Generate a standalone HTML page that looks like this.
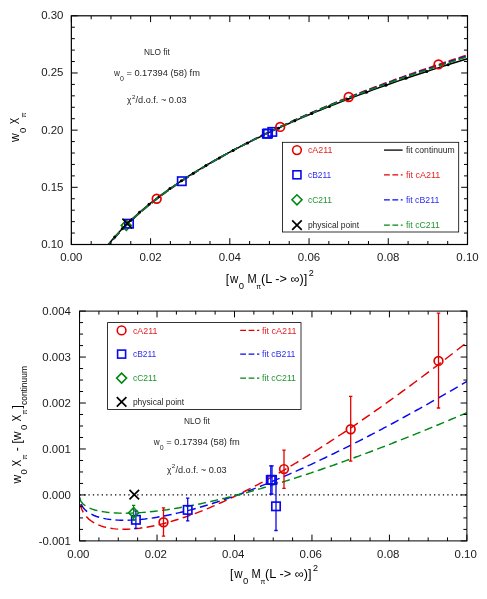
<!DOCTYPE html>
<html><head><meta charset="utf-8"><title>NLO fit</title>
<style>
html,body{margin:0;padding:0;background:#fff;}
svg{display:block;font-family:"Liberation Sans",sans-serif;}
svg{will-change:transform;}
</style></head>
<body>
<svg width="487" height="599" viewBox="0 0 487 599">
<rect width="487" height="599" fill="#fff"/>
<clipPath id="c1"><rect x="71.35" y="15.80" width="396.15" height="228.70"/></clipPath>
<g clip-path="url(#c1)">
<path d="M105.02 248.74 L105.08 248.66 L105.26 248.43 L105.55 248.05 L105.95 247.52 L106.47 246.85 L107.11 246.03 L107.87 245.07 L108.74 243.98 L109.73 242.77 L110.83 241.43 L112.05 239.98 L113.39 238.42 L114.84 236.75 L116.41 234.99 L118.09 233.14 L119.89 231.20 L121.81 229.18 L123.84 227.09 L125.99 224.93 L128.25 222.71 L130.64 220.43 L133.13 218.09 L135.75 215.70 L138.48 213.27 L141.32 210.79 L144.28 208.28 L147.36 205.72 L150.56 203.14 L153.87 200.52 L157.29 197.88 L160.84 195.20 L164.50 192.51 L168.27 189.79 L172.16 187.05 L176.17 184.30 L180.29 181.52 L184.53 178.73 L188.89 175.93 L193.36 173.12 L197.95 170.29 L202.66 167.45 L207.48 164.61 L212.41 161.75 L217.47 158.89 L222.63 156.02 L227.92 153.14 L233.32 150.26 L238.84 147.38 L244.47 144.49 L250.22 141.60 L256.09 138.71 L262.07 135.81 L268.17 132.91 L274.38 130.02 L280.71 127.12 L287.16 124.22 L293.72 121.32 L300.40 118.43 L307.20 115.54 L314.11 112.64 L321.14 109.76 L328.28 106.87 L335.54 103.99 L342.92 101.11 L350.41 98.24 L358.02 95.38 L365.74 92.51 L373.58 89.66 L381.54 86.81 L389.61 83.97 L397.80 81.14 L406.11 78.31 L414.53 75.50 L423.07 72.69 L431.72 69.89 L440.49 67.10 L449.38 64.33 L458.38 61.56 L467.50 58.81" stroke="#000" stroke-width="1.5" fill="none"/>
<path d="M105.0 249.6 L106.8 247.2 L108.7 244.8 L110.7 242.5 M113.0 239.7 L115.1 237.3 L117.2 234.9 L119.4 232.6 M122.1 229.8 L124.4 227.4 L126.7 225.0 L129.1 222.7 M131.9 220.1 L134.3 217.9 L136.6 215.7 L139.0 213.6 M141.8 211.2 L144.2 209.2 L146.5 207.2 L148.9 205.2 M151.7 203.0 L154.1 201.1 L156.4 199.3 L158.8 197.4 M161.6 195.3 L164.0 193.6 L166.3 191.8 L168.7 190.1 M171.5 188.1 L173.9 186.5 L176.2 184.8 L178.6 183.2 M181.4 181.3 L183.8 179.8 L186.1 178.2 L188.5 176.7 M191.3 174.9 L193.7 173.4 L196.0 171.9 L198.4 170.4 M201.2 168.7 L203.6 167.2 L205.9 165.8 L208.3 164.4 M211.1 162.8 L213.5 161.4 L215.8 160.0 L218.2 158.7 M221.0 157.1 L223.4 155.7 L225.7 154.4 L228.1 153.1 M230.9 151.6 L233.3 150.3 L235.6 149.0 L238.0 147.8 M240.8 146.3 L243.2 145.0 L245.5 143.8 L247.9 142.6 M250.7 141.1 L253.1 139.9 L255.4 138.7 L257.8 137.6 M260.6 136.2 L263.0 135.0 L265.3 133.8 L267.7 132.7 M270.5 131.3 L272.9 130.2 L275.2 129.1 L277.6 128.0 M280.4 126.6 L282.8 125.5 L285.1 124.4 L287.5 123.4 M290.3 122.1 L292.7 121.0 L295.0 119.9 L297.4 118.9 M300.2 117.6 L302.6 116.6 L304.9 115.5 L307.3 114.5 M310.1 113.3 L312.5 112.2 L314.8 111.2 L317.2 110.2 M320.0 109.0 L322.4 108.0 L324.7 107.0 L327.1 106.0 M329.9 104.9 L332.3 103.9 L334.6 102.9 L337.0 101.9 M339.8 100.8 L342.2 99.8 L344.5 98.9 L346.9 97.9 M349.7 96.8 L352.1 95.9 L354.4 95.0 L356.8 94.0 M359.6 92.9 L362.0 92.0 L364.3 91.1 L366.7 90.2 M369.5 89.1 L371.9 88.2 L374.2 87.3 L376.6 86.4 M379.4 85.4 L381.8 84.5 L384.1 83.6 L386.5 82.8 M389.3 81.7 L391.7 80.9 L394.0 80.0 L396.4 79.1 M399.2 78.1 L401.6 77.3 L403.9 76.4 L406.3 75.6 M409.1 74.6 L411.5 73.8 L413.8 72.9 L416.2 72.1 M419.0 71.1 L421.4 70.3 L423.7 69.5 L426.1 68.7 M428.9 67.7 L431.3 66.9 L433.6 66.1 L436.0 65.3 M438.8 64.4 L441.2 63.6 L443.5 62.8 L445.9 62.0 M448.7 61.1 L451.1 60.3 L453.4 59.5 L455.8 58.8 M458.6 57.9 L461.0 57.1 L463.3 56.3 L465.7 55.6" stroke="#e40000" stroke-width="1.6" fill="none"/>
<path d="M105.0 249.4 L106.8 247.0 L108.7 244.6 L110.7 242.3 M113.0 239.5 L115.1 237.1 L117.2 234.7 L119.4 232.4 M122.1 229.6 L124.4 227.2 L126.7 224.8 L129.1 222.5 M131.9 219.9 L134.3 217.7 L136.6 215.5 L139.0 213.4 M141.8 211.0 L144.2 209.0 L146.5 207.0 L148.9 205.0 M151.7 202.8 L154.1 200.9 L156.4 199.1 L158.8 197.3 M161.6 195.1 L164.0 193.4 L166.3 191.7 L168.7 190.0 M171.5 188.0 L173.9 186.3 L176.2 184.7 L178.6 183.1 M181.4 181.2 L183.8 179.6 L186.1 178.1 L188.5 176.5 M191.3 174.7 L193.7 173.2 L196.0 171.8 L198.4 170.3 M201.2 168.6 L203.6 167.2 L205.9 165.7 L208.3 164.3 M211.1 162.7 L213.5 161.3 L215.8 160.0 L218.2 158.6 M221.0 157.0 L223.4 155.7 L225.7 154.4 L228.1 153.1 M230.9 151.6 L233.3 150.3 L235.6 149.0 L238.0 147.8 M240.8 146.3 L243.2 145.1 L245.5 143.8 L247.9 142.6 M250.7 141.2 L253.1 140.0 L255.4 138.8 L257.8 137.6 M260.6 136.3 L263.0 135.1 L265.3 134.0 L267.7 132.8 M270.5 131.5 L272.9 130.3 L275.2 129.2 L277.6 128.1 M280.4 126.8 L282.8 125.7 L285.1 124.6 L287.5 123.5 M290.3 122.3 L292.7 121.2 L295.0 120.1 L297.4 119.1 M300.2 117.8 L302.6 116.8 L304.9 115.8 L307.3 114.7 M310.1 113.5 L312.5 112.5 L314.8 111.5 L317.2 110.5 M320.0 109.3 L322.4 108.3 L324.7 107.4 L327.1 106.4 M329.9 105.2 L332.3 104.2 L334.6 103.3 L337.0 102.3 M339.8 101.2 L342.2 100.3 L344.5 99.3 L346.9 98.4 M349.7 97.3 L352.1 96.3 L354.4 95.4 L356.8 94.5 M359.6 93.4 L362.0 92.5 L364.3 91.6 L366.7 90.7 M369.5 89.6 L371.9 88.8 L374.2 87.9 L376.6 87.0 M379.4 86.0 L381.8 85.1 L384.1 84.2 L386.5 83.3 M389.3 82.3 L391.7 81.5 L394.0 80.6 L396.4 79.8 M399.2 78.8 L401.6 77.9 L403.9 77.1 L406.3 76.3 M409.1 75.3 L411.5 74.5 L413.8 73.7 L416.2 72.8 M419.0 71.9 L421.4 71.1 L423.7 70.3 L426.1 69.5 M428.9 68.5 L431.3 67.7 L433.6 66.9 L436.0 66.1 M438.8 65.2 L441.2 64.4 L443.5 63.7 L445.9 62.9 M448.7 62.0 L451.1 61.2 L453.4 60.5 L455.8 59.7 M458.6 58.8 L461.0 58.0 L463.3 57.3 L465.7 56.6" stroke="#0808ee" stroke-width="1.6" fill="none"/>
<path d="M105.0 249.2 L106.8 246.8 L108.7 244.4 L110.7 242.1 M113.0 239.3 L115.1 236.9 L117.2 234.5 L119.4 232.2 M122.1 229.4 L124.4 227.0 L126.7 224.7 L129.1 222.4 M131.9 219.7 L134.3 217.5 L136.6 215.4 L139.0 213.2 M141.8 210.8 L144.2 208.8 L146.5 206.8 L148.9 204.9 M151.7 202.6 L154.1 200.8 L156.4 198.9 L158.8 197.1 M161.6 195.0 L164.0 193.3 L166.3 191.5 L168.7 189.8 M171.5 187.8 L173.9 186.2 L176.2 184.6 L178.6 183.0 M181.4 181.1 L183.8 179.5 L186.1 178.0 L188.5 176.4 M191.3 174.7 L193.7 173.2 L196.0 171.7 L198.4 170.2 M201.2 168.5 L203.6 167.1 L205.9 165.7 L208.3 164.3 M211.1 162.6 L213.5 161.3 L215.8 159.9 L218.2 158.6 M221.0 157.0 L223.4 155.7 L225.7 154.4 L228.1 153.1 M230.9 151.6 L233.3 150.3 L235.6 149.0 L238.0 147.8 M240.8 146.3 L243.2 145.1 L245.5 143.9 L247.9 142.7 M250.7 141.3 L253.1 140.1 L255.4 138.9 L257.8 137.7 M260.6 136.3 L263.0 135.2 L265.3 134.0 L267.7 132.9 M270.5 131.6 L272.9 130.4 L275.2 129.3 L277.6 128.2 M280.4 126.9 L282.8 125.8 L285.1 124.8 L287.5 123.7 M290.3 122.4 L292.7 121.4 L295.0 120.3 L297.4 119.3 M300.2 118.0 L302.6 117.0 L304.9 116.0 L307.3 115.0 M310.1 113.8 L312.5 112.7 L314.8 111.7 L317.2 110.7 M320.0 109.6 L322.4 108.6 L324.7 107.6 L327.1 106.6 M329.9 105.5 L332.3 104.5 L334.6 103.6 L337.0 102.6 M339.8 101.5 L342.2 100.6 L344.5 99.6 L346.9 98.7 M349.7 97.6 L352.1 96.7 L354.4 95.8 L356.8 94.9 M359.6 93.8 L362.0 92.9 L364.3 92.0 L366.7 91.1 M369.5 90.1 L371.9 89.2 L374.2 88.3 L376.6 87.4 M379.4 86.4 L381.8 85.5 L384.1 84.7 L386.5 83.8 M389.3 82.8 L391.7 82.0 L394.0 81.1 L396.4 80.3 M399.2 79.3 L401.6 78.5 L403.9 77.6 L406.3 76.8 M409.1 75.9 L411.5 75.0 L413.8 74.2 L416.2 73.4 M419.0 72.5 L421.4 71.7 L423.7 70.9 L426.1 70.1 M428.9 69.1 L431.3 68.4 L433.6 67.6 L436.0 66.8 M438.8 65.9 L441.2 65.1 L443.5 64.4 L445.9 63.6 M448.7 62.7 L451.1 61.9 L453.4 61.2 L455.8 60.4 M458.6 59.5 L461.0 58.8 L463.3 58.1 L465.7 57.3" stroke="#008612" stroke-width="1.6" fill="none"/>
<circle cx="114.69" cy="236.92" r="1.5" fill="#000"/>
<circle cx="122.35" cy="228.62" r="1.5" fill="#000"/>
<circle cx="130.62" cy="220.44" r="1.5" fill="#000"/>
<circle cx="139.52" cy="212.36" r="1.5" fill="#000"/>
<circle cx="149.04" cy="204.36" r="1.5" fill="#000"/>
<circle cx="159.18" cy="196.44" r="1.5" fill="#000"/>
<circle cx="169.94" cy="188.61" r="1.5" fill="#000"/>
<circle cx="181.33" cy="180.84" r="1.5" fill="#000"/>
<circle cx="193.34" cy="173.13" r="1.5" fill="#000"/>
<circle cx="205.97" cy="165.49" r="1.5" fill="#000"/>
<circle cx="219.22" cy="157.91" r="1.5" fill="#000"/>
<circle cx="233.09" cy="150.39" r="1.5" fill="#000"/>
<circle cx="247.59" cy="142.92" r="1.5" fill="#000"/>
<circle cx="262.70" cy="135.51" r="1.5" fill="#000"/>
<circle cx="278.44" cy="128.15" r="1.5" fill="#000"/>
<circle cx="294.80" cy="120.85" r="1.5" fill="#000"/>
<circle cx="311.79" cy="113.61" r="1.5" fill="#000"/>
<circle cx="329.39" cy="106.43" r="1.5" fill="#000"/>
<circle cx="347.62" cy="99.31" r="1.5" fill="#000"/>
<circle cx="366.47" cy="92.25" r="1.5" fill="#000"/>
<circle cx="385.94" cy="85.26" r="1.5" fill="#000"/>
<circle cx="406.03" cy="78.34" r="1.5" fill="#000"/>
<circle cx="426.75" cy="71.49" r="1.5" fill="#000"/>
<circle cx="448.08" cy="64.73" r="1.5" fill="#000"/>
</g>
<path d="M121.30 225.40L126.30 220.40L131.30 225.40L126.30 230.40Z" fill="none" stroke="#008612" stroke-width="1.6"/>
<rect x="124.80" y="219.50" width="8.40" height="8.40" fill="none" stroke="#0808ee" stroke-width="1.65"/>
<path d="M122.40 218.70L132.00 228.30M122.40 228.30L132.00 218.70" fill="none" stroke="#000" stroke-width="1.7"/>
<circle cx="156.70" cy="198.70" r="4.35" fill="none" stroke="#e40000" stroke-width="1.7"/>
<rect x="177.60" y="177.00" width="8.40" height="8.40" fill="none" stroke="#0808ee" stroke-width="1.65"/>
<rect x="262.70" y="129.60" width="8.40" height="8.40" fill="none" stroke="#0808ee" stroke-width="1.65"/>
<rect x="263.80" y="129.30" width="8.40" height="8.40" fill="none" stroke="#0808ee" stroke-width="1.65"/>
<rect x="268.10" y="127.70" width="8.40" height="8.40" fill="none" stroke="#0808ee" stroke-width="1.65"/>
<circle cx="280.20" cy="126.90" r="4.35" fill="none" stroke="#e40000" stroke-width="1.7"/>
<circle cx="348.70" cy="97.00" r="4.35" fill="none" stroke="#e40000" stroke-width="1.7"/>
<circle cx="438.50" cy="64.40" r="4.35" fill="none" stroke="#e40000" stroke-width="1.7"/>
<path d="M71.35 244.50V238.20 M71.35 15.80V22.10 M91.16 244.50V241.00 M91.16 15.80V19.30 M110.96 244.50V241.00 M110.96 15.80V19.30 M130.77 244.50V241.00 M130.77 15.80V19.30 M150.58 244.50V238.20 M150.58 15.80V22.10 M170.39 244.50V241.00 M170.39 15.80V19.30 M190.19 244.50V241.00 M190.19 15.80V19.30 M210.00 244.50V241.00 M210.00 15.80V19.30 M229.81 244.50V238.20 M229.81 15.80V22.10 M249.62 244.50V241.00 M249.62 15.80V19.30 M269.42 244.50V241.00 M269.42 15.80V19.30 M289.23 244.50V241.00 M289.23 15.80V19.30 M309.04 244.50V238.20 M309.04 15.80V22.10 M328.85 244.50V241.00 M328.85 15.80V19.30 M348.65 244.50V241.00 M348.65 15.80V19.30 M368.46 244.50V241.00 M368.46 15.80V19.30 M388.27 244.50V238.20 M388.27 15.80V22.10 M408.08 244.50V241.00 M408.08 15.80V19.30 M427.88 244.50V241.00 M427.88 15.80V19.30 M447.69 244.50V241.00 M447.69 15.80V19.30 M467.50 244.50V238.20 M467.50 15.80V22.10 M71.35 244.50H77.65 M467.50 244.50H461.20 M71.35 233.06H74.85 M467.50 233.06H464.00 M71.35 221.63H74.85 M467.50 221.63H464.00 M71.35 210.19H74.85 M467.50 210.19H464.00 M71.35 198.76H74.85 M467.50 198.76H464.00 M71.35 187.32H77.65 M467.50 187.32H461.20 M71.35 175.89H74.85 M467.50 175.89H464.00 M71.35 164.45H74.85 M467.50 164.45H464.00 M71.35 153.02H74.85 M467.50 153.02H464.00 M71.35 141.59H74.85 M467.50 141.59H464.00 M71.35 130.15H77.65 M467.50 130.15H461.20 M71.35 118.71H74.85 M467.50 118.71H464.00 M71.35 107.28H74.85 M467.50 107.28H464.00 M71.35 95.84H74.85 M467.50 95.84H464.00 M71.35 84.41H74.85 M467.50 84.41H464.00 M71.35 72.98H77.65 M467.50 72.98H461.20 M71.35 61.54H74.85 M467.50 61.54H464.00 M71.35 50.10H74.85 M467.50 50.10H464.00 M71.35 38.67H74.85 M467.50 38.67H464.00 M71.35 27.23H74.85 M467.50 27.23H464.00 M71.35 15.80H77.65 M467.50 15.80H461.20" stroke="#000" stroke-width="1.0" fill="none"/>
<rect x="71.35" y="15.80" width="396.15" height="228.70" fill="none" stroke="#000" stroke-width="1.2"/>
<text x="71.35" y="260.90" font-size="11.3" text-anchor="middle" fill="#1a1a1a" textLength="22.3" lengthAdjust="spacingAndGlyphs">0.00</text>
<text x="150.58" y="260.90" font-size="11.3" text-anchor="middle" fill="#1a1a1a" textLength="22.3" lengthAdjust="spacingAndGlyphs">0.02</text>
<text x="229.81" y="260.90" font-size="11.3" text-anchor="middle" fill="#1a1a1a" textLength="22.3" lengthAdjust="spacingAndGlyphs">0.04</text>
<text x="309.04" y="260.90" font-size="11.3" text-anchor="middle" fill="#1a1a1a" textLength="22.3" lengthAdjust="spacingAndGlyphs">0.06</text>
<text x="388.27" y="260.90" font-size="11.3" text-anchor="middle" fill="#1a1a1a" textLength="22.3" lengthAdjust="spacingAndGlyphs">0.08</text>
<text x="467.50" y="260.90" font-size="11.3" text-anchor="middle" fill="#1a1a1a" textLength="22.3" lengthAdjust="spacingAndGlyphs">0.10</text>
<text x="63.50" y="247.90" font-size="11.3" text-anchor="end" fill="#1a1a1a" textLength="22.3" lengthAdjust="spacingAndGlyphs">0.10</text>
<text x="63.50" y="190.73" font-size="11.3" text-anchor="end" fill="#1a1a1a" textLength="22.3" lengthAdjust="spacingAndGlyphs">0.15</text>
<text x="63.50" y="133.55" font-size="11.3" text-anchor="end" fill="#1a1a1a" textLength="22.3" lengthAdjust="spacingAndGlyphs">0.20</text>
<text x="63.50" y="76.38" font-size="11.3" text-anchor="end" fill="#1a1a1a" textLength="22.3" lengthAdjust="spacingAndGlyphs">0.25</text>
<text x="63.50" y="19.20" font-size="11.3" text-anchor="end" fill="#1a1a1a" textLength="22.3" lengthAdjust="spacingAndGlyphs">0.30</text>
<text x="225.70" y="283.10" font-size="12" text-anchor="start" fill="#000">[</text>
<text x="230.00" y="283.10" font-size="12" text-anchor="start" fill="#000" textLength="8.3" lengthAdjust="spacingAndGlyphs">w</text>
<text x="238.70" y="289.00" font-size="9.5" text-anchor="start" fill="#000">0</text>
<text x="247.40" y="283.10" font-size="12" text-anchor="start" fill="#000" textLength="9.2" lengthAdjust="spacingAndGlyphs">M</text>
<text x="256.30" y="289.10" font-size="7" text-anchor="start" fill="#000">π</text>
<text x="260.90" y="283.10" font-size="12" text-anchor="start" fill="#000" textLength="46.4" lengthAdjust="spacingAndGlyphs">(L -&gt; ∞)]</text>
<text x="308.70" y="275.50" font-size="9" text-anchor="start" fill="#000">2</text>
<g transform="translate(19.3,142) rotate(-90)">
<text x="0.00" y="0.00" font-size="12" text-anchor="start" fill="#000">w</text>
<text x="9.00" y="6.40" font-size="9.5" text-anchor="start" fill="#000">0</text>
<text x="17.70" y="0.00" font-size="12" text-anchor="start" fill="#000" textLength="6.5" lengthAdjust="spacingAndGlyphs">X</text>
<text x="24.40" y="6.40" font-size="7.3" text-anchor="start" fill="#000">π</text>
</g>
<text x="144.00" y="55.20" font-size="8.3" text-anchor="start" fill="#000" textLength="25.8" lengthAdjust="spacingAndGlyphs" fill-opacity="0.88">NLO fit</text>
<text x="113.90" y="75.70" font-size="8.2" text-anchor="start" fill="#000" fill-opacity="0.88">w</text>
<text x="119.90" y="80.90" font-size="7" text-anchor="start" fill="#000" fill-opacity="0.88">0</text>
<text x="126.40" y="75.70" font-size="8.2" text-anchor="start" fill="#000" textLength="73.5" lengthAdjust="spacingAndGlyphs" fill-opacity="0.88">= 0.17394 (58) fm</text>
<text x="127.10" y="103.30" font-size="8.2" text-anchor="start" fill="#000" fill-opacity="0.88">χ</text>
<text x="131.90" y="98.70" font-size="6.2" text-anchor="start" fill="#000" fill-opacity="0.88">2</text>
<text x="135.50" y="103.30" font-size="8.2" text-anchor="start" fill="#000" textLength="51.2" lengthAdjust="spacingAndGlyphs" fill-opacity="0.88">/d.o.f. ~ 0.03</text>
<rect x="282.40" y="142.30" width="176.30" height="89.70" fill="#fff" stroke="#000" stroke-width="0.8"/>
<circle cx="296.95" cy="150.10" r="4.35" fill="none" stroke="#e40000" stroke-width="1.6"/>
<text x="307.90" y="153.00" font-size="8.6" text-anchor="start" fill="#e40000" textLength="24.6" lengthAdjust="spacingAndGlyphs" fill-opacity="0.88">cA211</text>
<rect x="292.95" y="170.80" width="8.00" height="8.00" fill="none" stroke="#0808ee" stroke-width="1.6"/>
<text x="307.90" y="177.70" font-size="8.6" text-anchor="start" fill="#0808ee" textLength="23.4" lengthAdjust="spacingAndGlyphs" fill-opacity="0.88">cB211</text>
<path d="M291.95 199.80L296.95 194.80L301.95 199.80L296.95 204.80Z" fill="none" stroke="#008612" stroke-width="1.6"/>
<text x="307.90" y="202.70" font-size="8.6" text-anchor="start" fill="#008612" textLength="24.0" lengthAdjust="spacingAndGlyphs" fill-opacity="0.88">cC211</text>
<path d="M292.15 220.30L301.75 229.90M292.15 229.90L301.75 220.30" fill="none" stroke="#000" stroke-width="1.7"/>
<text x="307.90" y="228.00" font-size="8.6" text-anchor="start" fill="#000" textLength="51.3" lengthAdjust="spacingAndGlyphs" fill-opacity="0.88">physical point</text>
<path d="M384.00 150.10H402.60" stroke="#000" stroke-width="1.3"/>
<text x="405.90" y="153.00" font-size="8.6" text-anchor="start" fill="#000" textLength="48.9" lengthAdjust="spacingAndGlyphs" fill-opacity="0.88">fit continuum</text>
<path d="M384.00 174.80H402.60" stroke="#e40000" stroke-width="1.3" stroke-dasharray="5.8 2.6"/>
<text x="405.90" y="177.70" font-size="8.6" text-anchor="start" fill="#e40000" textLength="34.4" lengthAdjust="spacingAndGlyphs" fill-opacity="0.88">fit cA211</text>
<path d="M384.00 199.80H402.60" stroke="#0808ee" stroke-width="1.3" stroke-dasharray="5.8 2.6"/>
<text x="405.90" y="202.70" font-size="8.6" text-anchor="start" fill="#0808ee" textLength="33.4" lengthAdjust="spacingAndGlyphs" fill-opacity="0.88">fit cB211</text>
<path d="M384.00 225.10H402.60" stroke="#008612" stroke-width="1.3" stroke-dasharray="5.8 2.6"/>
<text x="405.90" y="228.00" font-size="8.6" text-anchor="start" fill="#008612" textLength="33.9" lengthAdjust="spacingAndGlyphs" fill-opacity="0.88">fit cC211</text>
<clipPath id="c2"><rect x="79.55" y="311.10" width="387.35" height="229.80"/></clipPath>
<g clip-path="url(#c2)">
<path d="M79.55 494.94H466.90" stroke="#000" stroke-width="1.3" stroke-dasharray="1.3 3.13"/>
<path d="M79.6 497.8 L79.6 498.6 L79.7 499.5 L79.7 500.3 M80.3 504.5 L81.0 507.1 L82.0 509.8 L83.3 512.4 M86.3 516.6 L88.8 519.1 L91.5 521.2 L94.1 522.8 M98.3 524.9 L100.9 525.9 L103.5 526.7 L106.1 527.4 M110.4 528.2 L113.0 528.6 L115.6 528.9 L118.2 529.1 M122.4 529.2 L125.0 529.2 L127.7 529.2 L130.3 529.1 M134.5 528.7 L137.1 528.5 L139.7 528.2 L142.3 527.8 M146.6 527.2 L149.2 526.7 L151.8 526.2 L154.4 525.7 M158.6 524.7 L161.2 524.1 L163.9 523.5 L166.5 522.8 M170.7 521.6 L173.3 520.8 L175.9 520.0 L178.5 519.2 M182.7 517.8 L185.3 517.0 L188.0 516.1 L190.6 515.1 M194.8 513.6 L197.4 512.6 L200.0 511.6 L202.6 510.6 M206.8 508.9 L209.4 507.8 L212.0 506.7 L214.6 505.6 M218.8 503.7 L221.4 502.5 L224.0 501.4 L226.6 500.2 M230.8 498.2 L233.4 497.0 L236.0 495.7 L238.6 494.4 M242.8 492.4 L245.4 491.0 L248.0 489.7 L250.6 488.4 M254.8 486.2 L257.4 484.8 L260.0 483.4 L262.6 482.1 M266.7 479.8 L269.3 478.3 L271.9 476.9 L274.5 475.4 M278.7 473.1 L281.3 471.6 L283.9 470.1 L286.5 468.6 M290.6 466.1 L293.2 464.6 L295.8 463.0 L298.4 461.5 M302.6 459.0 L305.1 457.4 L307.7 455.8 L310.3 454.2 M314.5 451.6 L317.0 450.0 L319.6 448.3 L322.2 446.7 M326.4 444.0 L328.9 442.3 L331.5 440.7 L334.1 439.0 M338.3 436.2 L340.8 434.5 L343.4 432.8 L346.0 431.1 M350.1 428.3 L352.7 426.6 L355.3 424.8 L357.9 423.1 M362.0 420.2 L364.6 418.4 L367.1 416.6 L369.7 414.9 M373.9 411.9 L376.4 410.1 L379.0 408.3 L381.6 406.5 M385.7 403.5 L388.3 401.7 L390.8 399.8 L393.4 398.0 M397.6 395.0 L400.1 393.1 L402.7 391.2 L405.3 389.4 M409.4 386.3 L412.0 384.4 L414.5 382.5 L417.1 380.6 M421.3 377.5 L423.8 375.5 L426.4 373.6 L429.0 371.7 M433.1 368.5 L435.7 366.6 L438.2 364.6 L440.8 362.6 M445.0 359.5 L447.5 357.5 L450.1 355.5 L452.7 353.5 M456.8 350.3 L459.4 348.3 L461.9 346.3 L464.5 344.3" stroke="#e40000" stroke-width="1.45" fill="none"/>
<path d="M79.6 497.1 L79.6 498.0 L79.7 498.9 L79.9 499.8 M81.1 504.0 L82.5 506.7 L84.5 509.3 L87.1 511.6 M91.4 514.2 L94.0 515.5 L96.6 516.5 L99.2 517.3 M103.4 518.4 L106.0 518.9 L108.7 519.3 L111.3 519.6 M115.5 520.0 L118.1 520.1 L120.7 520.2 L123.3 520.3 M127.6 520.2 L130.2 520.1 L132.8 520.0 L135.4 519.9 M139.6 519.5 L142.2 519.3 L144.9 519.0 L147.5 518.6 M151.7 518.1 L154.3 517.7 L156.9 517.3 L159.5 516.8 M163.8 516.0 L166.4 515.5 L169.0 515.0 L171.6 514.5 M175.8 513.5 L178.4 512.9 L181.0 512.3 L183.6 511.7 M187.9 510.6 L190.5 509.9 L193.1 509.2 L195.7 508.5 M199.9 507.3 L202.5 506.5 L205.1 505.7 L207.7 505.0 M211.9 503.7 L214.5 502.8 L217.1 502.0 L219.7 501.1 M223.9 499.7 L226.5 498.8 L229.1 497.9 L231.7 497.0 M235.9 495.5 L238.5 494.6 L241.1 493.7 L243.7 492.7 M247.9 491.1 L250.5 490.1 L253.1 489.1 L255.7 488.1 M259.9 486.5 L262.5 485.4 L265.1 484.4 L267.6 483.3 M271.8 481.6 L274.4 480.5 L277.0 479.4 L279.6 478.3 M283.8 476.6 L286.4 475.4 L288.9 474.3 L291.5 473.2 M295.7 471.3 L298.3 470.2 L300.9 469.0 L303.5 467.9 M307.6 465.9 L310.2 464.8 L312.8 463.6 L315.4 462.4 M319.5 460.4 L322.1 459.2 L324.7 458.0 L327.3 456.7 M331.4 454.7 L334.0 453.5 L336.6 452.2 L339.2 450.9 M343.3 448.9 L345.9 447.6 L348.5 446.3 L351.0 445.0 M355.2 442.9 L357.8 441.6 L360.3 440.3 L362.9 439.0 M367.1 436.9 L369.6 435.5 L372.2 434.2 L374.8 432.8 M378.9 430.7 L381.5 429.3 L384.0 427.9 L386.6 426.6 M390.8 424.4 L393.3 423.0 L395.9 421.6 L398.5 420.2 M402.6 417.9 L405.2 416.5 L407.7 415.1 L410.3 413.7 M414.5 411.4 L417.0 410.0 L419.6 408.6 L422.2 407.1 M426.3 404.8 L428.9 403.4 L431.4 401.9 L434.0 400.4 M438.2 398.1 L440.7 396.6 L443.3 395.1 L445.9 393.7 M450.0 391.3 L452.6 389.8 L455.1 388.3 L457.7 386.8 M461.9 384.4 L463.5 383.4 L465.2 382.4 L466.9 381.4" stroke="#0808ee" stroke-width="1.45" fill="none"/>
<path d="M79.9 498.5 L80.8 501.1 L82.8 503.7 L85.4 505.8 M89.6 508.1 L92.2 509.1 L94.8 510.0 L97.4 510.6 M101.7 511.5 L104.3 511.9 L106.9 512.3 L109.5 512.5 M113.7 512.9 L116.3 513.0 L119.0 513.1 L121.6 513.2 M125.8 513.2 L128.4 513.1 L131.0 513.1 L133.6 513.0 M137.9 512.7 L140.5 512.6 L143.1 512.4 L145.7 512.2 M149.9 511.8 L152.5 511.5 L155.2 511.2 L157.8 510.9 M162.0 510.4 L164.6 510.0 L167.2 509.7 L169.8 509.3 M174.1 508.6 L176.7 508.2 L179.3 507.8 L181.9 507.3 M186.1 506.5 L188.7 506.1 L191.3 505.6 L193.9 505.0 M198.1 504.2 L200.7 503.7 L203.3 503.1 L205.9 502.5 M210.2 501.6 L212.8 501.0 L215.4 500.4 L218.0 499.8 M222.2 498.8 L224.8 498.2 L227.4 497.5 L230.0 496.9 M234.2 495.8 L236.8 495.2 L239.4 494.5 L241.9 493.8 M246.1 492.7 L248.7 492.0 L251.3 491.2 L253.9 490.5 M258.1 489.3 L260.7 488.6 L263.3 487.8 L265.9 487.1 M270.1 485.8 L272.7 485.1 L275.3 484.3 L277.8 483.5 M282.0 482.2 L284.6 481.4 L287.2 480.6 L289.8 479.8 M294.0 478.5 L296.5 477.6 L299.1 476.8 L301.7 475.9 M305.9 474.6 L308.5 473.7 L311.0 472.9 L313.6 472.0 M317.8 470.6 L320.4 469.7 L322.9 468.8 L325.5 467.9 M329.7 466.5 L332.3 465.6 L334.8 464.7 L337.4 463.8 M341.6 462.3 L344.1 461.4 L346.7 460.4 L349.3 459.5 M353.5 458.0 L356.0 457.0 L358.6 456.1 L361.2 455.1 M365.3 453.6 L367.9 452.6 L370.4 451.7 L373.0 450.7 M377.2 449.1 L379.7 448.1 L382.3 447.1 L384.9 446.2 M389.0 444.6 L391.6 443.6 L394.1 442.5 L396.7 441.5 M400.9 439.9 L403.4 438.9 L406.0 437.9 L408.6 436.9 M412.7 435.2 L415.3 434.2 L417.8 433.1 L420.4 432.1 M424.6 430.4 L427.1 429.3 L429.7 428.3 L432.3 427.2 M436.4 425.5 L439.0 424.5 L441.5 423.4 L444.1 422.3 M448.3 420.6 L450.8 419.5 L453.4 418.4 L456.0 417.4 M460.1 415.6 L462.4 414.6 L464.6 413.7 L466.9 412.7" stroke="#008612" stroke-width="1.45" fill="none"/>
<path d="M438.50 313.10V408.00 M436.80 313.10H440.20 M436.80 408.00H440.20" fill="none" stroke="#e40000" stroke-width="1.3"/>
<circle cx="438.50" cy="360.90" r="4.35" fill="none" stroke="#e40000" stroke-width="1.7"/>
<path d="M350.70 396.40V461.10 M349.00 396.40H352.40 M349.00 461.10H352.40" fill="none" stroke="#e40000" stroke-width="1.3"/>
<circle cx="350.70" cy="429.30" r="4.35" fill="none" stroke="#e40000" stroke-width="1.7"/>
<path d="M284.00 450.20V488.40 M282.30 450.20H285.70 M282.30 488.40H285.70" fill="none" stroke="#e40000" stroke-width="1.3"/>
<circle cx="284.00" cy="469.10" r="4.35" fill="none" stroke="#e40000" stroke-width="1.7"/>
<path d="M163.50 507.80V536.20 M161.80 507.80H165.20 M161.80 536.20H165.20" fill="none" stroke="#e40000" stroke-width="1.3"/>
<circle cx="163.50" cy="522.20" r="4.35" fill="none" stroke="#e40000" stroke-width="1.7"/>
<path d="M270.80 465.80V494.20 M269.10 465.80H272.50 M269.10 494.20H272.50" fill="none" stroke="#0808ee" stroke-width="1.3"/>
<rect x="266.60" y="475.70" width="8.40" height="8.40" fill="none" stroke="#0808ee" stroke-width="1.65"/>
<path d="M272.00 465.80V494.20 M270.30 465.80H273.70 M270.30 494.20H273.70" fill="none" stroke="#0808ee" stroke-width="1.3"/>
<rect x="267.80" y="475.70" width="8.40" height="8.40" fill="none" stroke="#0808ee" stroke-width="1.65"/>
<path d="M276.00 482.30V530.50 M274.30 482.30H277.70 M274.30 530.50H277.70" fill="none" stroke="#0808ee" stroke-width="1.3"/>
<rect x="271.80" y="502.10" width="8.40" height="8.40" fill="none" stroke="#0808ee" stroke-width="1.65"/>
<path d="M187.70 498.20V520.90 M186.00 498.20H189.40 M186.00 520.90H189.40" fill="none" stroke="#0808ee" stroke-width="1.3"/>
<rect x="183.50" y="505.70" width="8.40" height="8.40" fill="none" stroke="#0808ee" stroke-width="1.65"/>
<path d="M135.90 510.80V528.30 M134.20 510.80H137.60 M134.20 528.30H137.60" fill="none" stroke="#0808ee" stroke-width="1.3"/>
<rect x="131.70" y="515.60" width="8.40" height="8.40" fill="none" stroke="#0808ee" stroke-width="1.65"/>
<path d="M133.60 505.30V520.10 M131.90 505.30H135.30 M131.90 520.10H135.30" fill="none" stroke="#008612" stroke-width="1.3"/>
<path d="M128.60 512.70L133.60 507.70L138.60 512.70L133.60 517.70Z" fill="none" stroke="#008612" stroke-width="1.6"/>
<path d="M129.50 489.80L139.10 499.40M129.50 499.40L139.10 489.80" fill="none" stroke="#000" stroke-width="1.7"/>
</g>
<path d="M79.55 540.90V534.60 M79.55 311.10V317.40 M98.92 540.90V537.40 M98.92 311.10V314.60 M118.28 540.90V537.40 M118.28 311.10V314.60 M137.65 540.90V537.40 M137.65 311.10V314.60 M157.02 540.90V534.60 M157.02 311.10V317.40 M176.39 540.90V537.40 M176.39 311.10V314.60 M195.75 540.90V537.40 M195.75 311.10V314.60 M215.12 540.90V537.40 M215.12 311.10V314.60 M234.49 540.90V534.60 M234.49 311.10V317.40 M253.86 540.90V537.40 M253.86 311.10V314.60 M273.22 540.90V537.40 M273.22 311.10V314.60 M292.59 540.90V537.40 M292.59 311.10V314.60 M311.96 540.90V534.60 M311.96 311.10V317.40 M331.33 540.90V537.40 M331.33 311.10V314.60 M350.69 540.90V537.40 M350.69 311.10V314.60 M370.06 540.90V537.40 M370.06 311.10V314.60 M389.43 540.90V534.60 M389.43 311.10V317.40 M408.80 540.90V537.40 M408.80 311.10V314.60 M428.16 540.90V537.40 M428.16 311.10V314.60 M447.53 540.90V537.40 M447.53 311.10V314.60 M466.90 540.90V534.60 M466.90 311.10V317.40 M79.55 540.90H85.85 M466.90 540.90H460.60 M79.55 529.41H83.05 M466.90 529.41H463.40 M79.55 517.92H83.05 M466.90 517.92H463.40 M79.55 506.43H83.05 M466.90 506.43H463.40 M79.55 494.94H85.85 M466.90 494.94H460.60 M79.55 483.45H83.05 M466.90 483.45H463.40 M79.55 471.96H83.05 M466.90 471.96H463.40 M79.55 460.47H83.05 M466.90 460.47H463.40 M79.55 448.98H85.85 M466.90 448.98H460.60 M79.55 437.49H83.05 M466.90 437.49H463.40 M79.55 426.00H83.05 M466.90 426.00H463.40 M79.55 414.51H83.05 M466.90 414.51H463.40 M79.55 403.02H85.85 M466.90 403.02H460.60 M79.55 391.53H83.05 M466.90 391.53H463.40 M79.55 380.04H83.05 M466.90 380.04H463.40 M79.55 368.55H83.05 M466.90 368.55H463.40 M79.55 357.06H85.85 M466.90 357.06H460.60 M79.55 345.57H83.05 M466.90 345.57H463.40 M79.55 334.08H83.05 M466.90 334.08H463.40 M79.55 322.59H83.05 M466.90 322.59H463.40 M79.55 311.10H85.85 M466.90 311.10H460.60" stroke="#000" stroke-width="1.0" fill="none"/>
<rect x="79.55" y="311.10" width="387.35" height="229.80" fill="none" stroke="#000" stroke-width="1.0"/>
<text x="78.35" y="558.40" font-size="11.3" text-anchor="middle" fill="#1a1a1a" textLength="22.3" lengthAdjust="spacingAndGlyphs">0.00</text>
<text x="155.82" y="558.40" font-size="11.3" text-anchor="middle" fill="#1a1a1a" textLength="22.3" lengthAdjust="spacingAndGlyphs">0.02</text>
<text x="233.29" y="558.40" font-size="11.3" text-anchor="middle" fill="#1a1a1a" textLength="22.3" lengthAdjust="spacingAndGlyphs">0.04</text>
<text x="310.76" y="558.40" font-size="11.3" text-anchor="middle" fill="#1a1a1a" textLength="22.3" lengthAdjust="spacingAndGlyphs">0.06</text>
<text x="388.23" y="558.40" font-size="11.3" text-anchor="middle" fill="#1a1a1a" textLength="22.3" lengthAdjust="spacingAndGlyphs">0.08</text>
<text x="465.70" y="558.40" font-size="11.3" text-anchor="middle" fill="#1a1a1a" textLength="22.3" lengthAdjust="spacingAndGlyphs">0.10</text>
<text x="70.90" y="545.10" font-size="11.3" text-anchor="end" fill="#1a1a1a" textLength="32.2" lengthAdjust="spacingAndGlyphs">-0.001</text>
<text x="70.90" y="499.14" font-size="11.3" text-anchor="end" fill="#1a1a1a" textLength="28.6" lengthAdjust="spacingAndGlyphs">0.000</text>
<text x="70.90" y="453.18" font-size="11.3" text-anchor="end" fill="#1a1a1a" textLength="28.6" lengthAdjust="spacingAndGlyphs">0.001</text>
<text x="70.90" y="407.22" font-size="11.3" text-anchor="end" fill="#1a1a1a" textLength="28.6" lengthAdjust="spacingAndGlyphs">0.002</text>
<text x="70.90" y="361.26" font-size="11.3" text-anchor="end" fill="#1a1a1a" textLength="28.6" lengthAdjust="spacingAndGlyphs">0.003</text>
<text x="70.90" y="315.30" font-size="11.3" text-anchor="end" fill="#1a1a1a" textLength="28.6" lengthAdjust="spacingAndGlyphs">0.004</text>
<text x="229.90" y="578.30" font-size="12" text-anchor="start" fill="#000">[</text>
<text x="234.20" y="578.30" font-size="12" text-anchor="start" fill="#000" textLength="8.3" lengthAdjust="spacingAndGlyphs">w</text>
<text x="242.90" y="584.20" font-size="9.5" text-anchor="start" fill="#000">0</text>
<text x="251.60" y="578.30" font-size="12" text-anchor="start" fill="#000" textLength="9.2" lengthAdjust="spacingAndGlyphs">M</text>
<text x="260.50" y="584.30" font-size="7" text-anchor="start" fill="#000">π</text>
<text x="265.10" y="578.30" font-size="12" text-anchor="start" fill="#000" textLength="46.4" lengthAdjust="spacingAndGlyphs">(L -&gt; ∞)]</text>
<text x="312.90" y="570.70" font-size="9" text-anchor="start" fill="#000">2</text>
<g transform="translate(20.8,483.6) rotate(-90)">
<text x="0.00" y="0.00" font-size="12" text-anchor="start" fill="#000">w</text>
<text x="9.20" y="6.50" font-size="9.5" text-anchor="start" fill="#000">0</text>
<text x="17.10" y="0.00" font-size="12" text-anchor="start" fill="#000" textLength="6.7" lengthAdjust="spacingAndGlyphs">X</text>
<text x="24.20" y="6.40" font-size="7.3" text-anchor="start" fill="#000">π</text>
<text x="32.30" y="0.00" font-size="12" text-anchor="start" fill="#000">-</text>
<text x="40.00" y="0.00" font-size="12" text-anchor="start" fill="#000">[w</text>
<text x="53.60" y="6.50" font-size="9.5" text-anchor="start" fill="#000">0</text>
<text x="62.20" y="0.00" font-size="12" text-anchor="start" fill="#000" textLength="6.7" lengthAdjust="spacingAndGlyphs">X</text>
<text x="69.20" y="6.40" font-size="7.3" text-anchor="start" fill="#000">π</text>
<text x="75.00" y="0.00" font-size="12" text-anchor="start" fill="#000">]</text>
<text x="78.60" y="5.90" font-size="8.5" text-anchor="start" fill="#000" textLength="39.0" lengthAdjust="spacingAndGlyphs">continuum</text>
</g>
<text x="183.90" y="424.20" font-size="8.3" text-anchor="start" fill="#000" textLength="25.8" lengthAdjust="spacingAndGlyphs" fill-opacity="0.88">NLO fit</text>
<text x="153.80" y="444.90" font-size="8.2" text-anchor="start" fill="#000" fill-opacity="0.88">w</text>
<text x="159.80" y="450.10" font-size="7" text-anchor="start" fill="#000" fill-opacity="0.88">0</text>
<text x="166.30" y="444.90" font-size="8.2" text-anchor="start" fill="#000" textLength="73.5" lengthAdjust="spacingAndGlyphs" fill-opacity="0.88">= 0.17394 (58) fm</text>
<text x="167.00" y="472.80" font-size="8.2" text-anchor="start" fill="#000" fill-opacity="0.88">χ</text>
<text x="171.80" y="468.20" font-size="6.2" text-anchor="start" fill="#000" fill-opacity="0.88">2</text>
<text x="175.40" y="472.80" font-size="8.2" text-anchor="start" fill="#000" textLength="51.2" lengthAdjust="spacingAndGlyphs" fill-opacity="0.88">/d.o.f. ~ 0.03</text>
<rect x="107.60" y="322.60" width="193.40" height="86.80" fill="#fff" stroke="#000" stroke-width="0.8"/>
<circle cx="121.60" cy="330.40" r="4.35" fill="none" stroke="#e40000" stroke-width="1.6"/>
<text x="132.90" y="333.70" font-size="8.6" text-anchor="start" fill="#e40000" textLength="24.6" lengthAdjust="spacingAndGlyphs" fill-opacity="0.88">cA211</text>
<rect x="117.60" y="350.10" width="8.00" height="8.00" fill="none" stroke="#0808ee" stroke-width="1.6"/>
<text x="132.90" y="357.40" font-size="8.6" text-anchor="start" fill="#0808ee" textLength="23.4" lengthAdjust="spacingAndGlyphs" fill-opacity="0.88">cB211</text>
<path d="M116.60 378.10L121.60 373.10L126.60 378.10L121.60 383.10Z" fill="none" stroke="#008612" stroke-width="1.6"/>
<text x="132.90" y="381.40" font-size="8.6" text-anchor="start" fill="#008612" textLength="24.0" lengthAdjust="spacingAndGlyphs" fill-opacity="0.88">cC211</text>
<path d="M116.80 397.10L126.40 406.70M116.80 406.70L126.40 397.10" fill="none" stroke="#000" stroke-width="1.7"/>
<text x="132.90" y="405.20" font-size="8.6" text-anchor="start" fill="#000" textLength="51.3" lengthAdjust="spacingAndGlyphs" fill-opacity="0.88">physical point</text>
<path d="M240.20 330.40H259.30" stroke="#e40000" stroke-width="1.3" stroke-dasharray="5.8 2.6"/>
<text x="262.10" y="333.70" font-size="8.6" text-anchor="start" fill="#e40000" textLength="34.4" lengthAdjust="spacingAndGlyphs" fill-opacity="0.88">fit cA211</text>
<path d="M240.20 354.10H259.30" stroke="#0808ee" stroke-width="1.3" stroke-dasharray="5.8 2.6"/>
<text x="262.10" y="357.40" font-size="8.6" text-anchor="start" fill="#0808ee" textLength="33.4" lengthAdjust="spacingAndGlyphs" fill-opacity="0.88">fit cB211</text>
<path d="M240.20 378.10H259.30" stroke="#008612" stroke-width="1.3" stroke-dasharray="5.8 2.6"/>
<text x="262.10" y="381.40" font-size="8.6" text-anchor="start" fill="#008612" textLength="33.9" lengthAdjust="spacingAndGlyphs" fill-opacity="0.88">fit cC211</text>
</svg>
</body></html>
